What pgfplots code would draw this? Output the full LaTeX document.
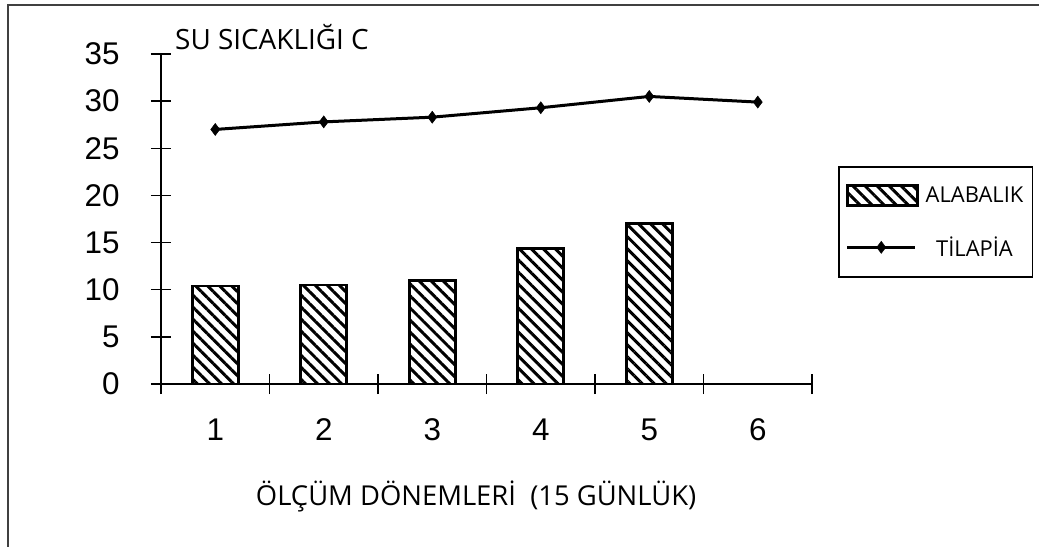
\documentclass[border=0pt]{standalone}
\usepackage{fontspec}
\usepackage{pgfplots}
\pgfplotsset{compat=1.18}
\usetikzlibrary{patterns.meta}
\setmainfont{Open Sans}
\newfontfamily\arialfont{Liberation Sans}
\pgfplotsset{
  mybarlegend/.style={legend image code/.code={\draw[##1] (0bp,-10bp) rectangle (70bp,10bp);}},
  mylinelegend/.style={legend image code/.code={\draw[mark repeat=2,mark phase=2,##1] plot coordinates {(0bp,0bp) (34bp,0bp) (68bp,0bp)};}},
}
\begin{document}
\begin{tikzpicture}
\useasboundingbox (0,0) rectangle (1039bp,-547bp);
\draw[line width=1.5bp, black!75] (8bp,-547bp) -- (8bp,-5bp) -- (1039bp,-5bp);
\begin{axis}[
  at={(161bp,-384bp)}, anchor=south west,
  scale only axis, width=651bp, height=330bp,
  xmin=0.5, xmax=6.5, ymin=0, ymax=35,
  axis x line=bottom, axis y line=left,
  axis line style={-, line width=2bp, black},
  clip=false,
  /pgf/number format/assume math mode=true,
  xtick={0.5,1.5,2.5,3.5,4.5,5.5,6.5},
  xticklabels={},
  extra x ticks={1,2,3,4,5,6},
  extra x tick labels={1,2,3,4,5,6},
  extra x tick style={major tick length=0pt, tick style={draw=none}},
  ytick={0,5,10,15,20,25,30,35},
  major tick length=20bp,
  tick style={line width=1.5bp, black},
  xtick align=center, ytick align=center,
  ticklabel style={font=\arialfont\fontsize{31.5}{31.5}\selectfont},
  xticklabel style={yshift=-31bp},
  yticklabel style={xshift=-28bp},
  title={\fontsize{28}{28}\selectfont SU SICAKLIĞI C},
  title style={at={(0,1)}, anchor=base west, xshift=14bp, yshift=-1bp, inner sep=0pt},
  xlabel={ÖLÇÜM DÖNEMLERİ\ \ (15 GÜNLÜK)},
  xlabel style={at={(0.484,0)}, anchor=base, yshift=-121bp, inner sep=0pt, font=\fontsize{27.5}{27.5}\selectfont},
  legend style={at={(1.04,0.66)}, anchor=north west, draw=black, line width=1.5bp,
    font=\fontsize{22}{22}\selectfont, row sep=28bp, column sep=5bp, inner xsep=7bp, inner ysep=17bp},
  legend cell align=center,
]
\addplot[ybar, bar width=46bp, draw=black, line width=2.8bp,
  pattern={Lines[angle=-45,distance=8.5bp,line width=3bp]}, pattern color=black,
  mybarlegend]
  coordinates {(1,10.4) (2,10.5) (3,11.0) (4,14.4) (5,17.0)};
\addlegendentry{ALABALIK}
\addplot[black, line width=3bp, mark=diamond*, mark size=6bp,
  mark options={solid, line width=0.5bp}, mylinelegend]
  coordinates {(1,27.0) (2,27.8) (3,28.3) (4,29.3) (5,30.5) (6,29.9)};
\addlegendentry{TİLAPİA}
\end{axis}
\end{tikzpicture}
\end{document}
